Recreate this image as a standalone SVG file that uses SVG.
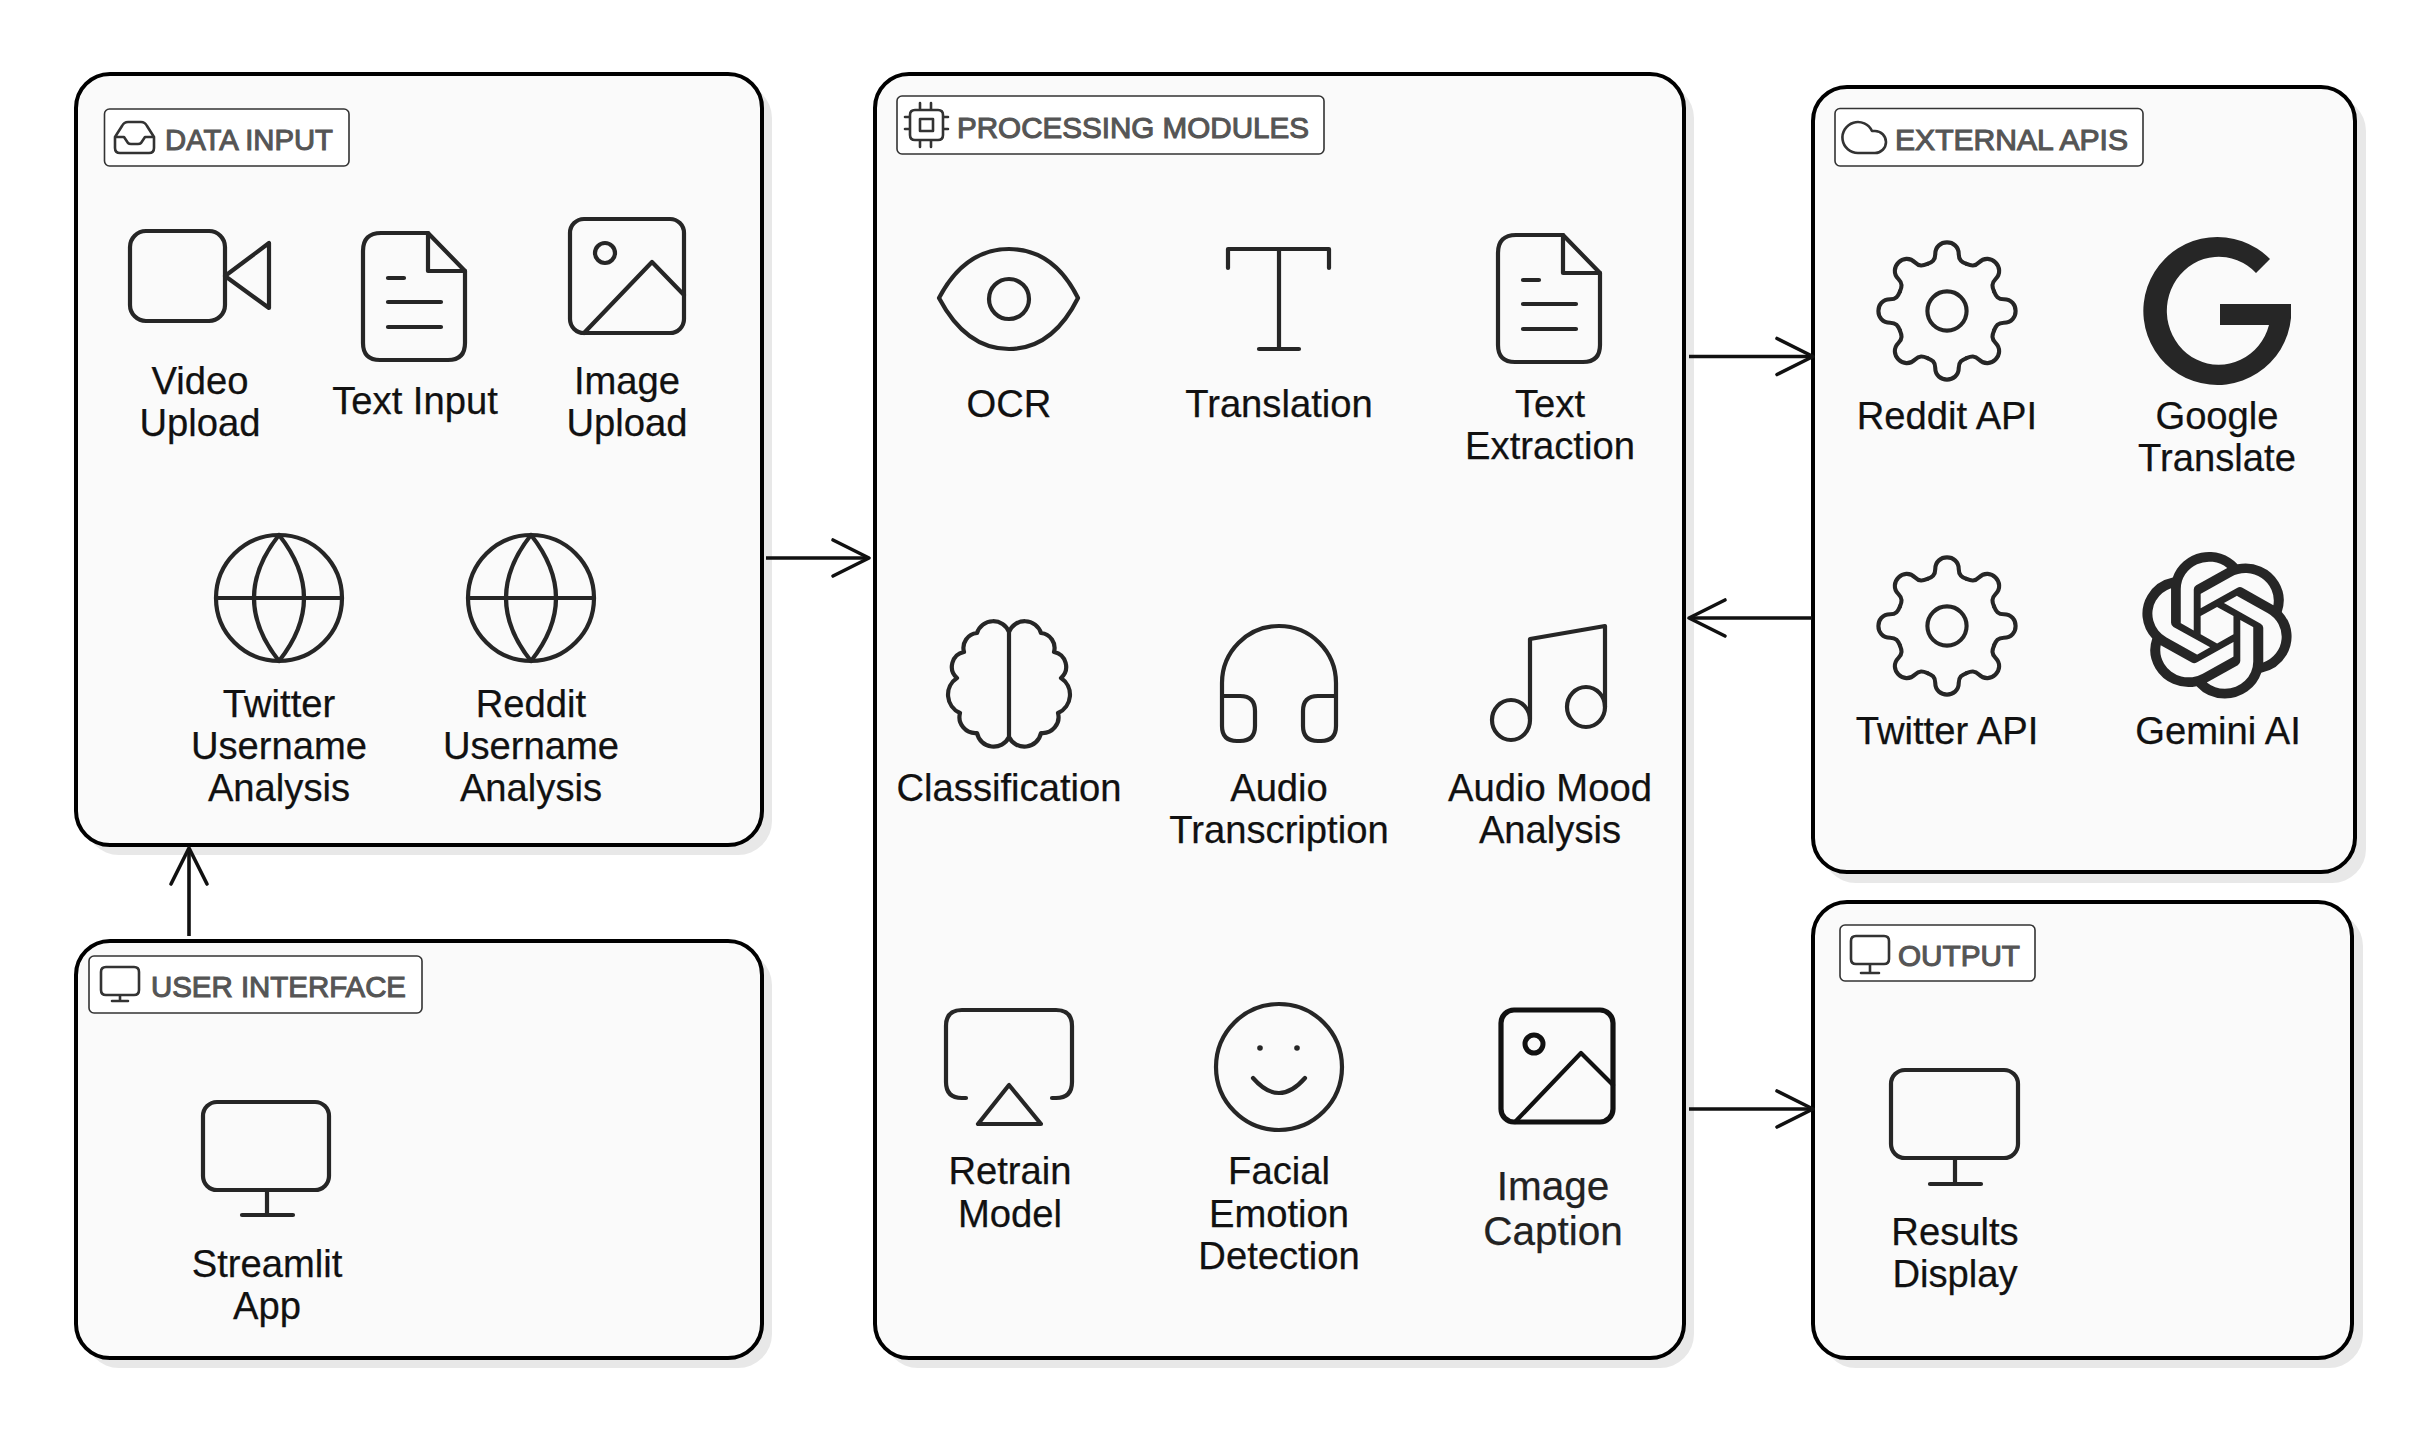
<svg xmlns="http://www.w3.org/2000/svg" xmlns:xlink="http://www.w3.org/1999/xlink" width="2430" height="1434" viewBox="0 0 2430 1434">
<style>
text{font-family:"Liberation Sans",Arial,sans-serif}
.shadow{fill:#e8e8e8;stroke:none}
.box{fill:#fafafa;stroke:#000;stroke-width:4}
.tag{fill:#fff;stroke:#333;stroke-width:1.6}
.tagtext{font-size:30px;fill:#555;stroke:#555;stroke-width:1.1}
.lbl{font-size:38.200px;fill:#111;text-anchor:middle;stroke:#111;stroke-width:.25}
.ic{fill:none;stroke:#262626;stroke-width:4.200;stroke-linecap:round;stroke-linejoin:round}
.tic{fill:none;stroke:#333;stroke-width:2.600;stroke-linecap:round;stroke-linejoin:round}
.solid{fill:#262626;stroke:none}
.conn{fill:none;stroke:#111;stroke-width:3.600;marker-end:url(#open)}
</style>
<defs>
<marker id="open" markerUnits="userSpaceOnUse" markerWidth="46" markerHeight="46" refX="38" refY="22" orient="auto" overflow="visible">
<path d="M2 4L38 22L2 40" fill="none" stroke="#111" stroke-width="3.600" stroke-linecap="round" stroke-linejoin="round"/>
</marker>
<path id="tooth" d="M-19.9 -48C-15 -50 -12 -52 -12 -58C-12 -66 -6 -70 0 -70C6 -70 12 -66 12 -58C12 -52 15 -50 19.9 -48"/>
<g id="gear">
<use xlink:href="#tooth" href="#tooth"/>
<use xlink:href="#tooth" href="#tooth" transform="rotate(45)"/>
<use xlink:href="#tooth" href="#tooth" transform="rotate(90)"/>
<use xlink:href="#tooth" href="#tooth" transform="rotate(135)"/>
<use xlink:href="#tooth" href="#tooth" transform="rotate(180)"/>
<use xlink:href="#tooth" href="#tooth" transform="rotate(225)"/>
<use xlink:href="#tooth" href="#tooth" transform="rotate(270)"/>
<use xlink:href="#tooth" href="#tooth" transform="rotate(315)"/>
<circle r="20"/>
</g>
<g id="globe">
<circle r="63"/>
<path d="M-63 0H63M0 -63Q-50 0 0 63Q50 0 0 -63"/>
</g>
<g id="doc">
<path d="M18 0H65L102 38V110Q102 127 85 127H17Q0 127 0 110V18Q0 0 18 0Z"/>
<path d="M65 0V38H102M25 45H41M25 69H78M25 94H78"/>
</g>
</defs>

<g id="data-input">
<rect class="shadow" x="85" y="84" width="687" height="771" rx="34"/>
<rect class="box" x="76" y="74" width="686" height="771" rx="34"/>
<rect class="tag" x="104.500" y="109" width="244.500" height="57" rx="5"/>
<path class="tic" d="M115 137V148Q115 153 120 153H149Q154 153 154 148V137L147 126Q145 122 141 122H128Q124 122 122 126ZM115 137H124L128 143Q129 144 131 144H138Q140 144 141 143L145 137H154"/>
<text class="tagtext" x="165" y="150" textLength="168" lengthAdjust="spacingAndGlyphs">DATA INPUT</text>
</g>
<g id="video-upload">
<rect class="ic" x="130" y="231" width="95" height="90" rx="16"/>
<path class="ic" d="M225 276L269 243V308Z"/>
<text class="lbl"><tspan x="200" y="394">Video</tspan><tspan x="200" y="436">Upload</tspan></text>
</g>
<g id="text-input">
<use class="ic" xlink:href="#doc" href="#doc" transform="translate(363 233)"/>
<text class="lbl" x="415" y="414">Text Input</text>
</g>
<g id="image-upload">
<rect class="ic" x="570" y="219" width="114" height="114" rx="14"/>
<circle class="ic" cx="605" cy="253" r="10"/>
<path class="ic" d="M584 333L652 262L684 295"/>
<text class="lbl"><tspan x="627" y="394">Image</tspan><tspan x="627" y="436">Upload</tspan></text>
</g>
<g id="twitter-username-analysis">
<use class="ic" xlink:href="#globe" href="#globe" transform="translate(279 598)"/>
<text class="lbl"><tspan x="279" y="717">Twitter</tspan><tspan x="279" y="759">Username</tspan><tspan x="279" y="801">Analysis</tspan></text>
</g>
<g id="reddit-username-analysis">
<use class="ic" xlink:href="#globe" href="#globe" transform="translate(531 598)"/>
<text class="lbl"><tspan x="531" y="717">Reddit</tspan><tspan x="531" y="759">Username</tspan><tspan x="531" y="801">Analysis</tspan></text>
</g>

<g id="user-interface">
<rect class="shadow" x="85" y="951" width="687" height="417" rx="34"/>
<rect class="box" x="76" y="941" width="686" height="417" rx="34"/>
<rect class="tag" x="89" y="956" width="333" height="57" rx="5"/>
<path class="tic" d="M106 967H134Q139 967 139 972V990Q139 995 134 995H106Q101 995 101 990V972Q101 967 106 967ZM120 995V1001M112 1001H128"/>
<text class="tagtext" x="151" y="997" textLength="255" lengthAdjust="spacingAndGlyphs">USER INTERFACE</text>
</g>
<g id="streamlit-app">
<rect class="ic" x="203" y="1102" width="126" height="88" rx="14"/>
<path class="ic" d="M267 1190V1215M242 1215H293"/>
<text class="lbl"><tspan x="267" y="1277">Streamlit</tspan><tspan x="267" y="1319">App</tspan></text>
</g>

<g id="processing-modules">
<rect class="shadow" x="884" y="84" width="810" height="1284" rx="34"/>
<rect class="box" x="875" y="74" width="809" height="1284" rx="34"/>
<rect class="tag" x="897" y="96" width="427" height="58" rx="5"/>
<path class="tic" d="M915 110H938Q943 110 943 115V135Q943 140 938 140H915Q910 140 910 135V115Q910 110 915 110ZM920 119H933V131H920ZM920 103V110M931 103V110M920 140V147M931 140V147M905 117H910M905 129H910M943 117H948M943 129H948"/>
<text class="tagtext" x="957" y="138" textLength="352" lengthAdjust="spacingAndGlyphs">PROCESSING MODULES</text>
</g>
<g id="ocr">
<path class="ic" d="M939 298C958 262 982 249 1009 249C1036 249 1060 262 1078 298C1060 334 1036 349 1009 349C982 349 958 334 939 298Z"/>
<circle class="ic" cx="1009" cy="299" r="20"/>
<text class="lbl" x="1009" y="417">OCR</text>
</g>
<g id="translation">
<path class="ic" d="M1228 268V249H1329V268M1279 249V349M1259 349H1299"/>
<text class="lbl" x="1279" y="417">Translation</text>
</g>
<g id="text-extraction">
<use class="ic" xlink:href="#doc" href="#doc" transform="translate(1498 235)"/>
<text class="lbl"><tspan x="1550" y="417">Text</tspan><tspan x="1550" y="459">Extraction</tspan></text>
</g>
<g id="classification">
<path class="ic" d="M1009 632V737M1009 632A17 17 0 0 1 1041 633A15 15 0 0 1 1054 652A15 15 0 0 1 1061 678A20 20 0 0 1 1058 713A16 16 0 0 1 1041 733A17 17 0 0 1 1009 737A17 17 0 0 1 977 733A16 16 0 0 1 960 713A20 20 0 0 1 957 678A15 15 0 0 1 964 652A15 15 0 0 1 977 633A17 17 0 0 1 1009 632Z"/>
<text class="lbl" x="1009" y="801">Classification</text>
</g>
<g id="audio-transcription">
<path class="ic" d="M1222 696V683A57 57 0 0 1 1336 683V696M1222 696H1240Q1255 696 1255 711V726Q1255 741 1240 741H1237Q1222 741 1222 726ZM1336 696H1318Q1303 696 1303 711V726Q1303 741 1318 741H1321Q1336 741 1336 726Z"/>
<text class="lbl"><tspan x="1279" y="801">Audio</tspan><tspan x="1279" y="843">Transcription</tspan></text>
</g>
<g id="audio-mood-analysis">
<path class="ic" d="M1530 719V639L1605 626V707"/>
<ellipse class="ic" cx="1511" cy="720" rx="19" ry="20"/>
<ellipse class="ic" cx="1586" cy="707" rx="19" ry="20"/>
<text class="lbl"><tspan x="1550" y="801">Audio Mood</tspan><tspan x="1550" y="843">Analysis</tspan></text>
</g>
<g id="retrain-model">
<path class="ic" d="M966 1098H962Q946 1098 946 1082V1026Q946 1010 962 1010H1056Q1072 1010 1072 1026V1082Q1072 1098 1056 1098H1052"/>
<path class="ic" d="M1009 1085L978 1124H1041Z"/>
<text class="lbl"><tspan x="1010" y="1184">Retrain</tspan><tspan x="1010" y="1227">Model</tspan></text>
</g>
<g id="facial-emotion-detection">
<circle class="ic" cx="1279" cy="1067" r="63"/>
<circle class="solid" cx="1260" cy="1048" r="2.800"/>
<circle class="solid" cx="1297" cy="1048" r="2.800"/>
<path class="ic" d="M1253 1078Q1279 1108 1305 1078"/>
<text class="lbl"><tspan x="1279" y="1184">Facial</tspan><tspan x="1279" y="1227">Emotion</tspan><tspan x="1279" y="1269">Detection</tspan></text>
</g>
<g id="image-caption">
<rect class="ic" x="1501" y="1010" width="112" height="112" rx="13" style="stroke:#111;stroke-width:5.200"/>
<circle class="ic" cx="1534" cy="1044" r="9" style="stroke:#111;stroke-width:5"/>
<path class="ic" d="M1515 1122L1581 1053L1613 1085" style="stroke:#111"/>
<text class="lbl" style="font-size:40.500px;fill:#222;stroke:#222"><tspan x="1553" y="1200">Image</tspan><tspan x="1553" y="1245">Caption</tspan></text>
</g>

<g id="external-apis">
<rect class="shadow" x="1822" y="97" width="544" height="786" rx="34"/>
<rect class="box" x="1813" y="87" width="542" height="785" rx="34"/>
<rect class="tag" x="1835" y="108.500" width="308" height="57.500" rx="5"/>
<path class="tic" d="M1858 153A15.500 15.500 0 1 1 1872 131H1875A11 11 0 0 1 1875 153Z"/>
<text class="tagtext" x="1895" y="150" textLength="233" lengthAdjust="spacingAndGlyphs">EXTERNAL APIS</text>
</g>
<g id="reddit-api">
<use class="ic" xlink:href="#gear" href="#gear" transform="translate(1947 311) scale(.98)"/>
<text class="lbl" x="1947" y="429">Reddit API</text>
</g>
<g id="google-translate">
<path class="solid" d="M2270 259A74 74 0 1 0 2291 318V304H2220V325H2269A52 54 0 1 1 2256 273Z"/>
<text class="lbl"><tspan x="2217" y="429">Google</tspan><tspan x="2217" y="471">Translate</tspan></text>
</g>
<g id="twitter-api">
<use class="ic" xlink:href="#gear" href="#gear" transform="translate(1947 626) scale(.98)"/>
<text class="lbl" x="1947" y="744">Twitter API</text>
</g>
<g id="gemini-ai">
<path class="solid" transform="translate(2141.400 552) scale(6.300 6.100)" d="M22.2819 9.8211a5.9847 5.9847 0 0 0-.5157-4.9108 6.0462 6.0462 0 0 0-6.5098-2.9A6.0651 6.0651 0 0 0 4.9807 4.1818a5.9847 5.9847 0 0 0-3.9977 2.9 6.0462 6.0462 0 0 0 .7427 7.0966 5.98 5.98 0 0 0 .511 4.9107 6.051 6.051 0 0 0 6.5146 2.9001A5.9847 5.9847 0 0 0 13.2599 24a6.0557 6.0557 0 0 0 5.7718-4.2058 5.9894 5.9894 0 0 0 3.9977-2.9001 6.0557 6.0557 0 0 0-.7475-7.0729zm-9.022 12.6081a4.4755 4.4755 0 0 1-2.8764-1.0408l.1419-.0804 4.7783-2.7582a.7948.7948 0 0 0 .3927-.6813v-6.7369l2.02 1.1686a.071.071 0 0 1 .038.052v5.5826a4.504 4.504 0 0 1-4.4945 4.4944zm-9.6607-4.1254a4.4708 4.4708 0 0 1-.5346-3.0137l.142.0852 4.783 2.7582a.7712.7712 0 0 0 .7806 0l5.8428-3.3685v2.3324a.0804.0804 0 0 1-.0332.0615L9.74 19.9502a4.4992 4.4992 0 0 1-6.1408-1.6464zM2.3408 7.8956a4.485 4.485 0 0 1 2.3655-1.9728V11.6a.7664.7664 0 0 0 .3879.6765l5.8144 3.3543-2.0201 1.1685a.0757.0757 0 0 1-.071 0l-4.8303-2.7865A4.504 4.504 0 0 1 2.3408 7.872zm16.5963 3.8558L13.1038 8.364 15.1192 7.2a.0757.0757 0 0 1 .071 0l4.8303 2.7913a4.4944 4.4944 0 0 1-.6765 8.1042v-5.6772a.79.79 0 0 0-.407-.667zm2.0107-3.0231l-.142-.0852-4.7735-2.7818a.7759.7759 0 0 0-.7854 0L9.409 9.2297V6.8974a.0662.0662 0 0 1 .0284-.0615l4.8303-2.7866a4.4992 4.4992 0 0 1 6.6802 4.66zM8.3065 12.863l-2.02-1.1638a.0804.0804 0 0 1-.038-.0567V6.0742a4.4992 4.4992 0 0 1 7.3757-3.4537l-.142.0805L8.704 5.459a.7948.7948 0 0 0-.3927.6813zm1.0976-2.3654l2.602-1.4998 2.6069 1.4998v2.9994l-2.5974 1.4997-2.6067-1.4997Z"/>
<text class="lbl" x="2218" y="744">Gemini AI</text>
</g>

<g id="output">
<rect class="shadow" x="1822" y="912" width="541" height="456" rx="34"/>
<rect class="box" x="1813" y="902" width="539" height="456" rx="34"/>
<rect class="tag" x="1840" y="925" width="195" height="56" rx="5"/>
<path class="tic" d="M1856 936H1884Q1889 936 1889 941V959Q1889 964 1884 964H1856Q1851 964 1851 959V941Q1851 936 1856 936ZM1870 964V973M1861 973H1879"/>
<text class="tagtext" x="1898" y="966" textLength="122" lengthAdjust="spacingAndGlyphs">OUTPUT</text>
</g>
<g id="results-display">
<rect class="ic" x="1891" y="1070" width="127" height="88" rx="14"/>
<path class="ic" d="M1955 1158V1184M1930 1184H1981"/>
<text class="lbl"><tspan x="1955" y="1245">Results</tspan><tspan x="1955" y="1287">Display</tspan></text>
</g>

<g id="connectors">
<path class="conn" d="M766 558H869"/>
<path class="conn" d="M189 936V848"/>
<path class="conn" d="M1689 356.500H1813"/>
<path class="conn" d="M1812 618H1689"/>
<path class="conn" d="M1689 1109H1813"/>
</g>
</svg>
